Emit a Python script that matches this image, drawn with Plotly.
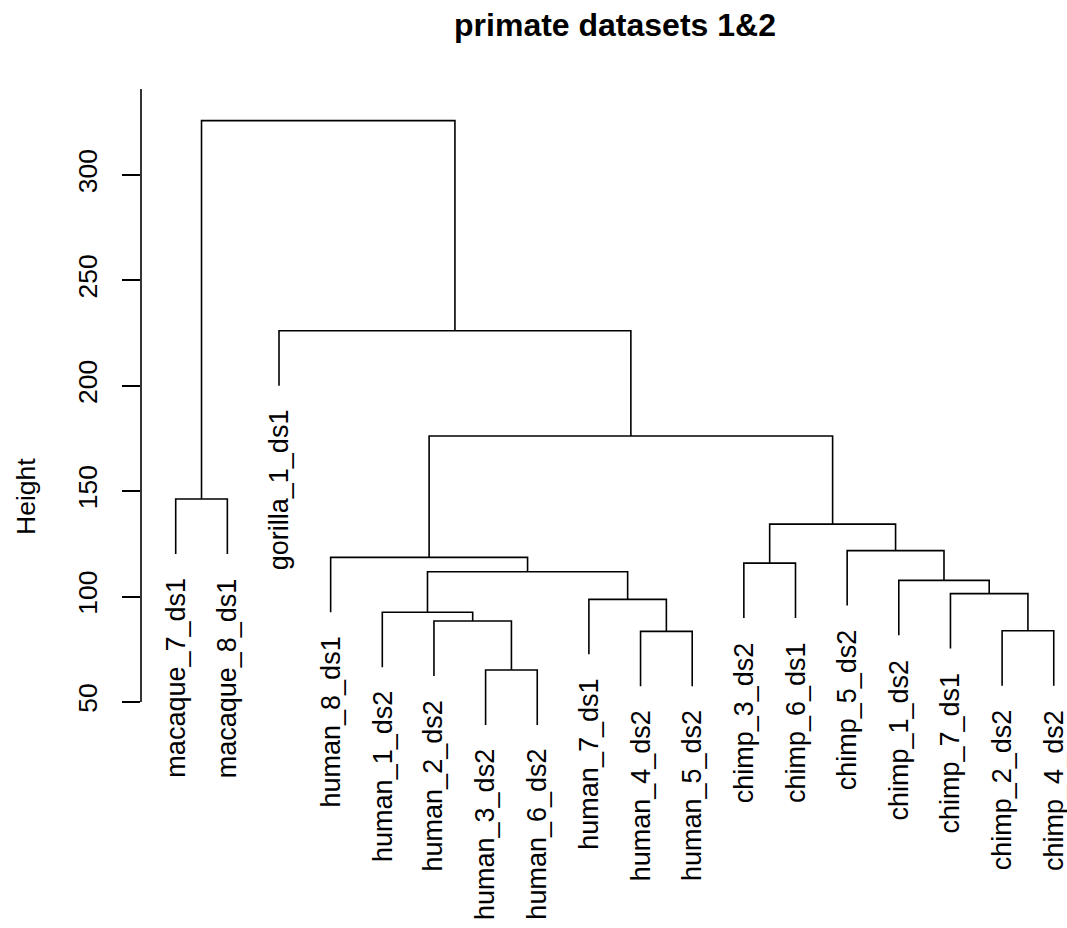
import plotly.graph_objects as go

# ---------------- data ----------------
leaf_labels = [
    "macaque_7_ds1", "macaque_8_ds1", "gorilla_1_ds1", "human_8_ds1",
    "human_1_ds2", "human_2_ds2", "human_3_ds2", "human_6_ds2",
    "human_7_ds1", "human_4_ds2", "human_5_ds2", "chimp_3_ds2",
    "chimp_6_ds1", "chimp_5_ds2", "chimp_1_ds2", "chimp_7_ds1",
    "chimp_2_ds2", "chimp_4_ds2",
]
# R-style merge table: negative = leaf (position in leaf_labels, 1-based), positive = earlier merge
merge_left = [-7, -10, -17, -6, -5, -9, -16, -15, 5, -12, -4, -14, 10, -1, 11, -3, 14]
merge_right = [-8, -11, -18, 1, 4, 2, 3, 7, 6, -13, 9, 8, 12, -2, 13, 15, 16]
merge_height = [65.2, 83.5, 83.8, 88.4, 92.6, 98.7, 101.4, 107.7, 111.8,
                115.9, 118.6, 121.8, 134.4, 146.3, 176.2, 226.1, 325.8]
y_ticks = [50, 100, 150, 200, 250, 300]
title_text = "primate datasets 1&2"
y_title = "Height"
hang_frac = 0.1

# ---------------- layout constants (window pixels) ----------------
W, H = 1067, 928
L, R, T, B = 141, 1067, 89, 880       # plot area in window pixels
ppu = 2.108                           # pixels per height unit
y50_px = 702.0                        # window row of height 50
x1_px, xstep = 175.7, 51.65           # window column of first leaf, spacing

y_top = 50 + (y50_px - T) / ppu
y_bot = 50 - (B - y50_px) / ppu
n = len(leaf_labels)
x_lo = 1 - (x1_px - L) / xstep
x_hi = n + (R - (x1_px + (n - 1) * xstep)) / xstep

FONT = "Liberation Sans, Arial, Helvetica, sans-serif"
FS_LAB = 27
FS_TICK = 26.5

# ---------------- dendrogram geometry ----------------
hang = hang_frac * (max(merge_height) - min(merge_height))
node_x = {}
xs, ys = [], []
leaf_pos = []


def child(c, ph):
    if c < 0:
        i = -c - 1
        leaf_pos.append((i + 1, ph - hang, leaf_labels[i]))
        return i + 1, ph - hang
    return node_x[c], merge_height[c - 1]


for k in range(len(merge_height)):
    h = merge_height[k]
    xl, yl = child(merge_left[k], h)
    xr, yr = child(merge_right[k], h)
    node_x[k + 1] = (xl + xr) / 2
    xs += [xl, xl, xr, xr, None]
    ys += [yl, h, h, yr, None]

fig = go.Figure()
fig.add_trace(go.Scatter(x=xs, y=ys, mode="lines",
                         line=dict(color="black", width=1.6),
                         hoverinfo="skip", showlegend=False))

annotations = []
for (x, y, lab) in leaf_pos:
    annotations.append(dict(
        x=x, y=y, xref="x", yref="y", text=lab, showarrow=False,
        textangle=-90, xanchor="center", yanchor="top", yshift=-23,
        borderpad=0, font=dict(family=FONT, size=FS_LAB, color="black")))

# y-axis title (window pixel position converted to paper coords)
ylab_x, ylab_y = 26, 497
annotations.append(dict(
    x=(ylab_x - L) / (R - L), y=(B - ylab_y) / (B - T), xref="paper", yref="paper",
    text=y_title, showarrow=False, textangle=-90, xanchor="center", yanchor="middle",
    font=dict(family=FONT, size=FS_TICK, color="black")))

fig.update_layout(
    width=W, height=H, autosize=False,
    margin=dict(l=L, r=W - R, t=T, b=H - B, pad=0),
    paper_bgcolor="white", plot_bgcolor="white",
    title=dict(text="<b>" + title_text + "</b>", x=615 / W, xref="container",
               xanchor="center", y=1 - 25 / H, yref="container", yanchor="middle",
               font=dict(family=FONT, size=32, color="black")),
    xaxis=dict(range=[x_lo, x_hi], visible=False, fixedrange=True),
    yaxis=dict(range=[y_bot, y_top], showgrid=False, zeroline=False, showline=False,
               tickmode="array", tickvals=y_ticks, ticktext=[str(v) for v in y_ticks],
               ticks="outside", ticklen=18, tickwidth=1.6, tickcolor="black",
               tickangle=-90, ticklabelstandoff=14,
               tickfont=dict(family=FONT, size=FS_TICK, color="black"), fixedrange=True),
    annotations=annotations,
    shapes=[dict(type="line", xref="paper", yref="y", x0=0, x1=0,
                 y0=y_ticks[0], y1=y_top, line=dict(color="black", width=1.6))],
    hovermode=False,
)

fig.write_html(
    "out.html",
    config={"displayModeBar": False, "staticPlot": False},
    post_script=("document.body.style.margin='0';"
                 "document.body.style.overflow='hidden';"
                 "document.documentElement.style.overflow='hidden';"),
)
